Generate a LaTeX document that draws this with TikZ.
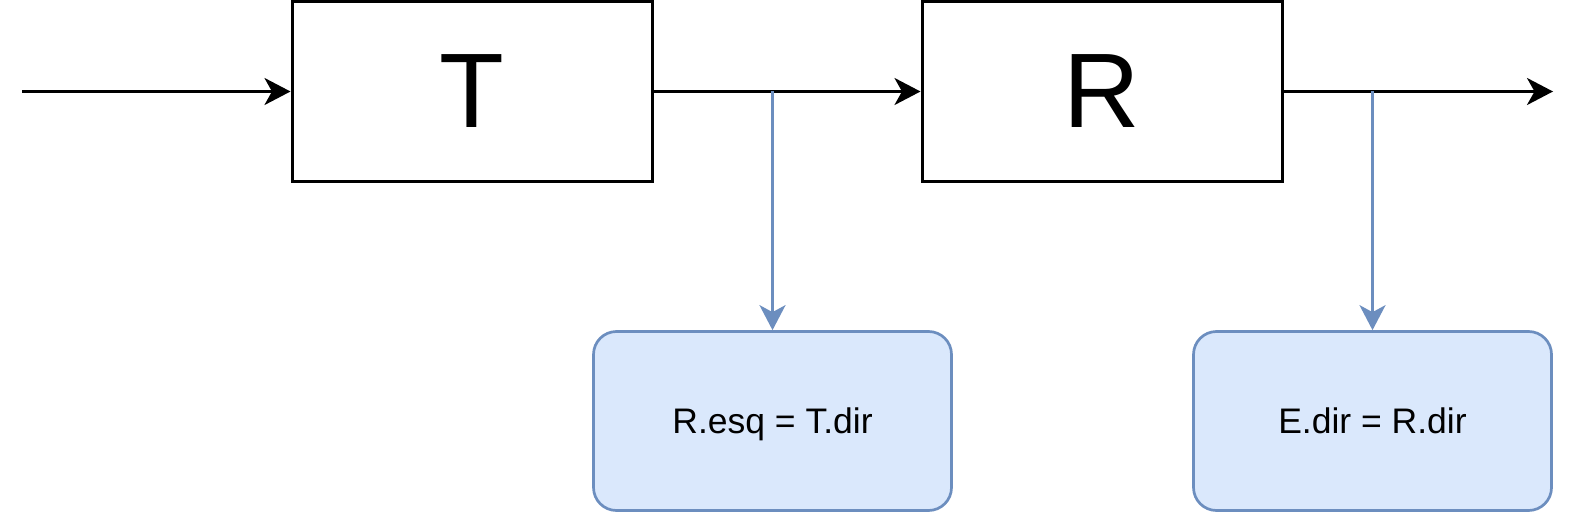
\documentclass[tikz,border=0pt]{standalone}
\usepackage{fontspec}
\setmainfont{Liberation Sans}
\usetikzlibrary{arrows.meta}
\definecolor{bstroke}{HTML}{6C8EBF}
\definecolor{bfill}{HTML}{DAE8FC}
\tikzset{
  blockbox/.style={draw=black, line width=3pt, minimum width=360pt, minimum height=179pt, inner sep=0pt, text depth=0pt, font=\fontsize{106}{106}\selectfont},
  notebox/.style={draw=bstroke, fill=bfill, line width=2.7pt, rounded corners=23pt, minimum width=358pt, minimum height=179pt, inner sep=0pt, text depth=0pt, font=\fontsize{35.5}{35.5}\selectfont},
  blackarrow/.style={line width=3pt, -{Stealth[length=26pt, width=27pt, inset=7.5pt]}},
  bluearrow/.style={draw=bstroke, line width=2.7pt, -{Stealth[length=25pt, width=26pt, inset=7pt, fill=bstroke]}},
}
\begin{document}
\begin{tikzpicture}[x=1pt,y=-1pt]
\useasboundingbox (0,0) rectangle (1578,516);
\node[blockbox] (T) at (472,91.5) {T};
\node[blockbox] (R) at (1102,91.5) {R};
\node[notebox] (lb) at (772.5,421) {R.esq = T.dir};
\node[notebox] (rb) at (1372.5,421) {E.dir = R.dir};
\coordinate (in) at (22,91.5);
\coordinate (out) at (1553,91.5);
\coordinate (j1) at (772.5,91.5);
\coordinate (j2) at (1372.5,91.5);
\draw[blackarrow] (in) -- (T.west);
\draw[blackarrow] (T.east) -- (R.west);
\draw[blackarrow] (R.east) -- (out);
\draw[bluearrow] (j1) -- (lb.north);
\draw[bluearrow] (j2) -- (rb.north);
\end{tikzpicture}
\end{document}
